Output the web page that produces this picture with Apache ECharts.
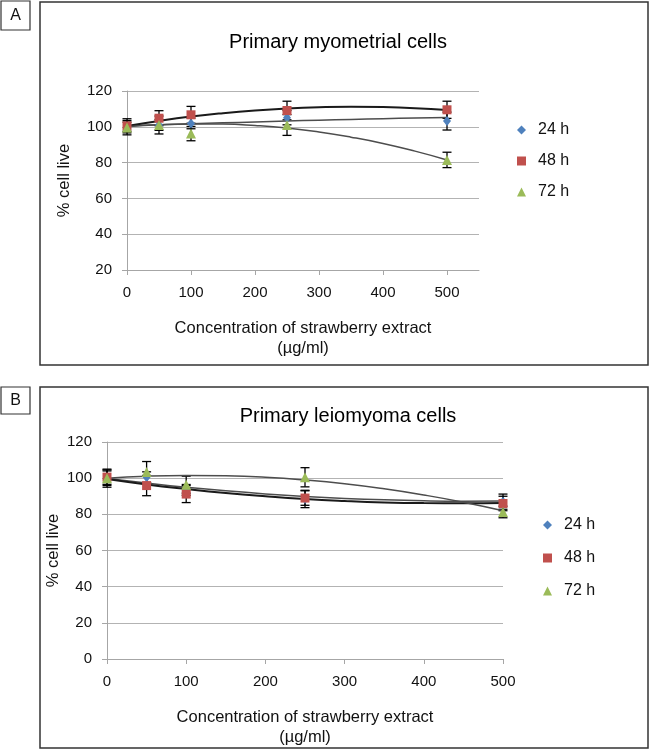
<!DOCTYPE html>
<html>
<head>
<meta charset="utf-8">
<script src="https://cdn.jsdelivr.net/npm/echarts@6/dist/echarts.min.js"></script>
<style>html,body{margin:0;padding:0;background:#fff}#chart{width:650px;height:751px}</style>
</head>
<body>
<div id="chart"></div>
<script>
// ---- data ----
const concentrations = [0, 50, 100, 250, 500];
const seriesNames = ['24 h', '48 h', '72 h'];
const xTickLabels = [0, 100, 200, 300, 400, 500];
const yTicksA = [20, 40, 60, 80, 100, 120];
const yTicksB = [0, 20, 40, 60, 80, 100, 120];

// Panel A: primary myometrial cells
const myo24 = [100, 101, 101.9, 105.1, 103.2];
const myo48 = [100.5, 104.8, 106.7, 109.1, 109.5];
const myo72 = [99.6, 101, 96.2, 101, 81.5];
const myo24Err = [4.5, 3, 3, 4, 5];
const myo48Err = [3, 4.2, 4.7, 5.2, 4.8];
const myo72Err = [3, 5, 4, 5.8, 4.3];

// Panel B: primary leiomyoma cells
const leio24 = [100, 100.5, 93.5, 88.5, 87];
const leio48 = [100.6, 95.9, 91.2, 89, 86];
const leio72 = [100, 103.4, 96.4, 100.5, 81.3];
const leio24Err = [5, 3, 3, 4.8, 4.2];
const leio48Err = [4, 5.6, 4.7, 4, 4];
const leio72Err = [4, 5.8, 4.7, 5.3, 3.2];

// trendlines
const trendX = [0, 50, 100, 150, 200, 250, 300, 350, 400, 450, 500];
const myoTrend24 = [100.6, 101.1, 101.7, 102.2, 102.7, 103.2, 103.7, 104.1, 104.5, 104.9, 105.2];
const myoTrend48 = [100.5, 103.3, 105.7, 107.6, 109.1, 110.2, 110.9, 111.2, 111.0, 110.4, 109.4];
const myoTrend72 = [100, 101.1, 101.6, 101.5, 100.7, 99.3, 97.1, 94.2, 90.7, 86.4, 81.5];
const leioTrend24 = [99.8, 97.3, 95.0, 93.0, 91.3, 89.9, 88.8, 88.0, 87.5, 87.3, 87.4];
const leioTrend48 = [99.5, 96.5, 94.0, 91.8, 90.0, 88.5, 87.4, 86.6, 86.2, 86.1, 86.3];
const leioTrend72 = [100, 101.1, 101.5, 101.3, 100.5, 99.0, 96.9, 94.1, 90.7, 86.7, 82.0];

// ---- styling ----
const FONT = 'Liberation Sans, Arial, sans-serif';
const colors = ['#4F81BD', '#C0504D', '#9BBB59'];
const symbols = ['diamond', 'rect', 'triangle'];
const symbolSizes = [[8, 10], 9, 10];

function pairs(xs, ys) { return xs.map((x, i) => [x, ys[i]]); }
function errData(xs, ys, es) { return xs.map((x, i) => [x, ys[i], es[i]]); }

function errRender(params, api) {
  const x = api.value(0), v = api.value(1), e = api.value(2);
  const top = api.coord([x, v + e]);
  const bot = api.coord([x, v - e]);
  const cap = 4.5;
  const st = { stroke: '#000', lineWidth: 1.3 };
  return {
    type: 'group',
    children: [
      { type: 'line', shape: { x1: top[0], y1: top[1], x2: bot[0], y2: bot[1] }, style: st },
      { type: 'line', shape: { x1: top[0] - cap, y1: top[1], x2: top[0] + cap, y2: top[1] }, style: st },
      { type: 'line', shape: { x1: bot[0] - cap, y1: bot[1], x2: bot[0] + cap, y2: bot[1] }, style: st }
    ]
  };
}

function panelSeries(idx, vals, errs, trends, trendStyles) {
  const out = [];
  vals.forEach((v, k) => {
    out.push({
      type: 'custom', xAxisIndex: idx, yAxisIndex: idx, renderItem: errRender,
      data: errData(concentrations, v, errs[k]), z: 2, silent: true
    });
  });
  trends.forEach((t, k) => {
    out.push({
      type: 'line', xAxisIndex: idx, yAxisIndex: idx, smooth: true, showSymbol: false,
      symbol: 'none', data: pairs(trendX, t), z: 3, silent: true,
      lineStyle: trendStyles[k]
    });
  });
  vals.forEach((v, k) => {
    out.push({
      name: seriesNames[k], type: 'scatter', xAxisIndex: idx, yAxisIndex: idx,
      symbol: symbols[k], symbolSize: symbolSizes[k],
      itemStyle: { color: colors[k], opacity: 1 },
      data: pairs(concentrations, v), z: 4 + k
    });
  });
  return out;
}

const axisGrey = '#a6a6a6';
function xAxisCfg(idx, max) {
  return {
    gridIndex: idx, type: 'value', min: 0, max: max,
    name: 'Concentration of strawberry extract\n(\u00b5g/ml)',
    nameLocation: 'middle', nameGap: 48, nameMoveOverlap: false,
    nameTextStyle: { fontFamily: FONT, fontSize: 16.5, color: '#111', lineHeight: 20 },
    axisLine: { show: true, lineStyle: { color: axisGrey, width: 1 } },
    axisTick: { show: true, length: 5, lineStyle: { color: axisGrey }, customValues: xTickLabels },
    axisLabel: { fontFamily: FONT, fontSize: 15, color: '#111', margin: 15, customValues: xTickLabels },
    splitLine: { show: false }
  };
}
function yAxisCfg(idx, min, gap) {
  return {
    gridIndex: idx, type: 'value', min: min, max: 120, interval: 20,
    name: '% cell live', nameLocation: 'middle', nameRotate: 90, nameGap: gap,
    nameMoveOverlap: false,
    nameTextStyle: { fontFamily: FONT, fontSize: 16.5, color: '#111' },
    axisLine: { show: true, lineStyle: { color: axisGrey, width: 1 } },
    axisTick: { show: true, length: 5, lineStyle: { color: axisGrey } },
    axisLabel: { fontFamily: FONT, fontSize: 15, color: '#111', margin: 15 },
    splitLine: { show: true, lineStyle: { color: '#b3b3b3', width: 1 } }
  };
}
function legendCfg(left, top, gap) {
  return {
    orient: 'vertical', left: left, top: top, itemGap: gap,
    itemWidth: 9, itemHeight: 9,
    data: seriesNames.map((n, k) => ({ name: n, icon: symbols[k], itemStyle: { color: colors[k] } })),
    textStyle: { fontFamily: FONT, fontSize: 16, color: '#111', padding: [0, 0, 0, 7] },
    selectedMode: false
  };
}

const dark = { color: '#1a1a1a', width: 2 };
const grey = { color: '#4d4d4d', width: 1.5 };

const option = {
  animation: false,
  backgroundColor: '#fff',
  title: [
    { text: 'Primary myometrial cells', left: 333, top: 27, textAlign: 'center',
      textStyle: { fontFamily: FONT, fontSize: 20, fontWeight: 'normal', color: '#000' } },
    { text: 'Primary leiomyoma cells', left: 343, top: 401, textAlign: 'center',
      textStyle: { fontFamily: FONT, fontSize: 20, fontWeight: 'normal', color: '#000' } }
  ],
  legend: [legendCfg(512, 117, 15), legendCfg(538, 512, 17)],
  grid: [
    { left: 127, top: 91, width: 352, height: 179 },
    { left: 107, top: 442, width: 396, height: 217 }
  ],
  xAxis: [xAxisCfg(0, 550), xAxisCfg(1, 500)],
  yAxis: [yAxisCfg(0, 20, 54), yAxisCfg(1, 0, 45)],
  series: [].concat(
    panelSeries(0, [myo24, myo48, myo72], [myo24Err, myo48Err, myo72Err],
      [myoTrend24, myoTrend48, myoTrend72], [grey, dark, grey]),
    panelSeries(1, [leio24, leio48, leio72], [leio24Err, leio48Err, leio72Err],
      [leioTrend24, leioTrend48, leioTrend72], [grey, dark, grey])
  ),
  graphic: [
    { type: 'rect', shape: { x: 40, y: 2, width: 608, height: 363 }, style: { fill: 'none', stroke: '#333', lineWidth: 1.5 }, silent: true },
    { type: 'rect', shape: { x: 1, y: 1, width: 29, height: 29 }, style: { fill: 'none', stroke: '#333', lineWidth: 1.2 }, silent: true },
    { type: 'text', x: 15.5, y: 15.5, style: { text: 'A', font: '16px ' + FONT, fill: '#111', align: 'center', verticalAlign: 'middle' }, silent: true },
    { type: 'rect', shape: { x: 40, y: 387, width: 608, height: 361 }, style: { fill: 'none', stroke: '#333', lineWidth: 1.5 }, silent: true },
    { type: 'rect', shape: { x: 1, y: 387, width: 29, height: 27 }, style: { fill: 'none', stroke: '#333', lineWidth: 1.2 }, silent: true },
    { type: 'text', x: 15.5, y: 400.5, style: { text: 'B', font: '16px ' + FONT, fill: '#111', align: 'center', verticalAlign: 'middle' }, silent: true }
  ]
};

const chart = echarts.init(document.getElementById('chart'), null, { renderer: 'canvas' });
chart.setOption(option);
</script>
</body>
</html>
